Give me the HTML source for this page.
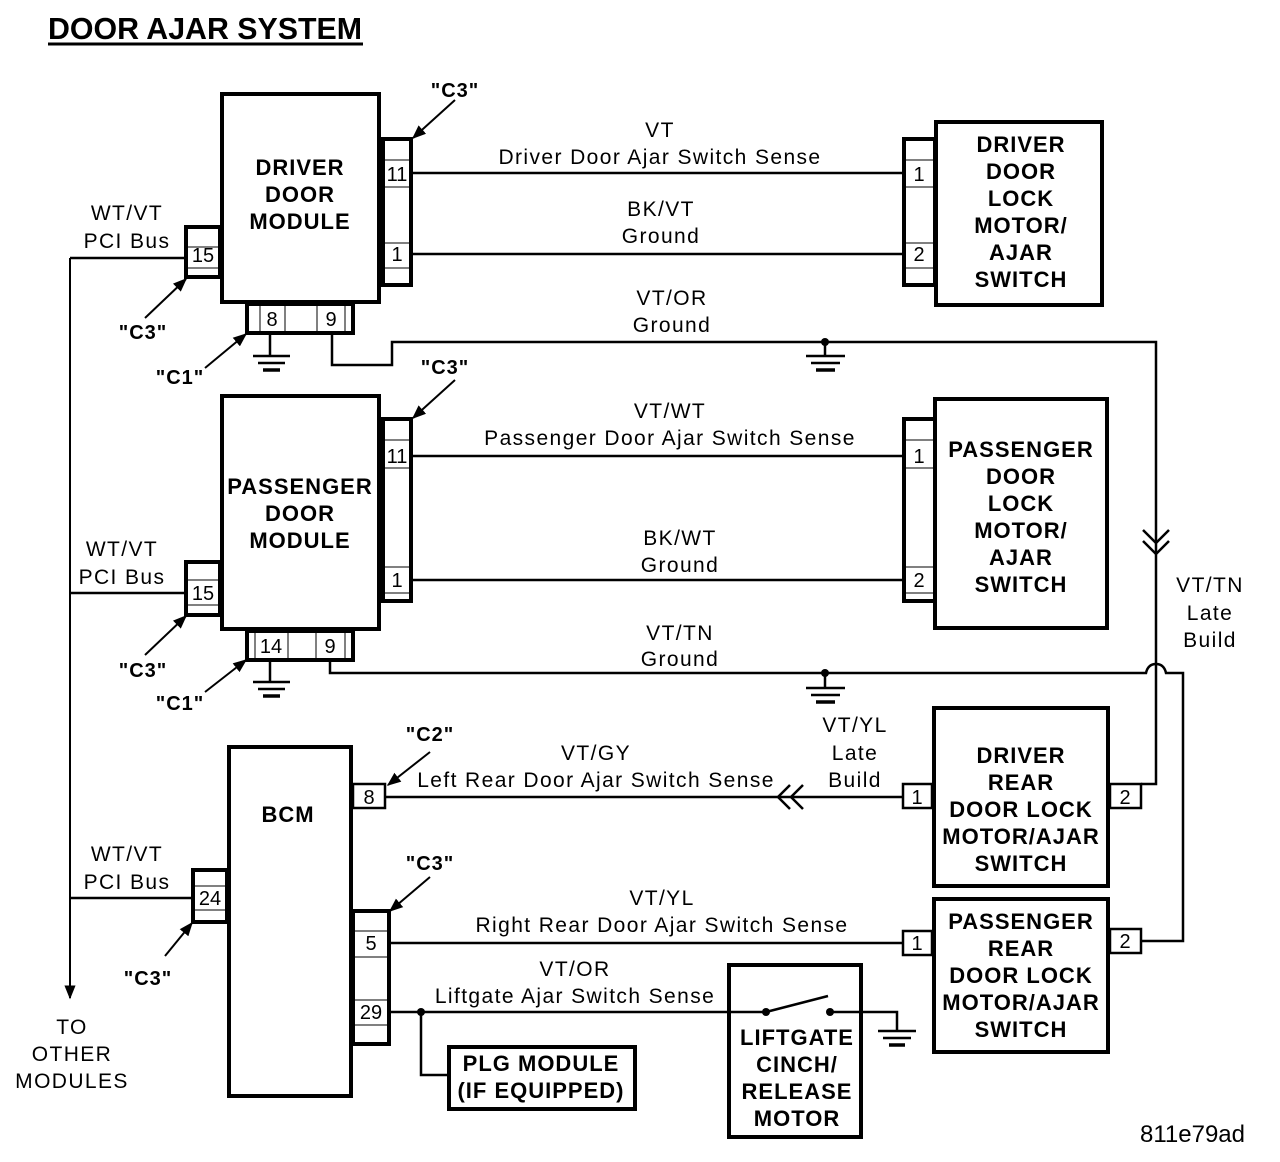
<!DOCTYPE html>
<html><head><meta charset="utf-8"><style>
html,body{margin:0;padding:0;background:#fff;}
svg{display:block;}
text{font-family:"Liberation Sans",Arial,sans-serif;fill:#000;}
.b{font-weight:bold;font-size:22px;text-anchor:middle;letter-spacing:1px;}
.w{font-size:21px;text-anchor:middle;letter-spacing:1.4px;}
.p{font-size:20px;text-anchor:middle;}
.c{font-weight:bold;font-size:20px;text-anchor:middle;letter-spacing:1px;}
</style></head><body>
<svg width="1280" height="1162" viewBox="0 0 1280 1162" xmlns="http://www.w3.org/2000/svg">
<defs>
<marker id="ar" viewBox="0 0 10 10" refX="9" refY="5" markerWidth="7" markerHeight="7" orient="auto"><path d="M0,1 L10,5 L0,9 z"/></marker>
</defs>
<g fill="none" stroke="#000">
<line x1="48" y1="44" x2="363" y2="44" stroke-width="3"/>
<rect x="222" y="94" width="157" height="208" stroke-width="4"/>
<rect x="383" y="139" width="28" height="146" stroke-width="4"/>
<line x1="383" y1="160" x2="411" y2="160" stroke-width="1"/><line x1="383" y1="187" x2="411" y2="187" stroke-width="1"/>
<line x1="383" y1="243" x2="411" y2="243" stroke-width="1"/><line x1="383" y1="268" x2="411" y2="268" stroke-width="1"/>
<rect x="186" y="227" width="34" height="50" stroke-width="4"/>
<line x1="186" y1="247" x2="220" y2="247" stroke-width="1"/><line x1="186" y1="268" x2="220" y2="268" stroke-width="1"/>
<rect x="247" y="304" width="106" height="29" stroke-width="4"/>
<line x1="260" y1="304" x2="260" y2="333" stroke-width="1"/><line x1="285" y1="304" x2="285" y2="333" stroke-width="1"/>
<line x1="317" y1="304" x2="317" y2="333" stroke-width="1"/><line x1="345" y1="304" x2="345" y2="333" stroke-width="1"/>
<line x1="411" y1="173" x2="903" y2="173" stroke-width="2.5"/>
<line x1="411" y1="254" x2="903" y2="254" stroke-width="2.5"/>
<rect x="936" y="122" width="166" height="183" stroke-width="4"/>
<rect x="904" y="139" width="31" height="146" stroke-width="4"/>
<line x1="904" y1="160" x2="935" y2="160" stroke-width="1"/><line x1="904" y1="187" x2="935" y2="187" stroke-width="1"/>
<line x1="904" y1="243" x2="935" y2="243" stroke-width="1"/><line x1="904" y1="268" x2="935" y2="268" stroke-width="1"/>
<line x1="270" y1="333" x2="270" y2="355" stroke-width="2.5"/>
<line x1="253" y1="356" x2="290" y2="356" stroke-width="2.5"/><line x1="258" y1="363" x2="285" y2="363" stroke-width="2.5"/><line x1="263" y1="370" x2="280" y2="370" stroke-width="3.5"/>
<polyline points="332,333 332,365 392,365 392,342 1156,342 1156,784 1141,784" stroke-width="2.5"/>
<line x1="825" y1="342" x2="825" y2="356" stroke-width="2.5"/>
<line x1="806" y1="356" x2="845" y2="356" stroke-width="2.5"/><line x1="811" y1="363" x2="840" y2="363" stroke-width="2.5"/><line x1="816" y1="370" x2="835" y2="370" stroke-width="3.5"/>
<polyline points="1143,530 1156,543 1169,530" stroke-width="2.5"/>
<polyline points="1143,541 1156,554 1169,541" stroke-width="2.5"/>
<rect x="222" y="396" width="157" height="233" stroke-width="4"/>
<rect x="383" y="419" width="28" height="182" stroke-width="4"/>
<line x1="383" y1="440" x2="411" y2="440" stroke-width="1"/><line x1="383" y1="468" x2="411" y2="468" stroke-width="1"/>
<line x1="383" y1="567" x2="411" y2="567" stroke-width="1"/><line x1="383" y1="593" x2="411" y2="593" stroke-width="1"/>
<rect x="186" y="562" width="34" height="53" stroke-width="4"/>
<line x1="186" y1="580" x2="220" y2="580" stroke-width="1"/><line x1="186" y1="605" x2="220" y2="605" stroke-width="1"/>
<rect x="247" y="631" width="106" height="29" stroke-width="4"/>
<line x1="255" y1="631" x2="255" y2="660" stroke-width="1"/><line x1="288" y1="631" x2="288" y2="660" stroke-width="1"/>
<line x1="316" y1="631" x2="316" y2="660" stroke-width="1"/><line x1="345" y1="631" x2="345" y2="660" stroke-width="1"/>
<line x1="411" y1="456" x2="903" y2="456" stroke-width="2.5"/>
<line x1="411" y1="580" x2="903" y2="580" stroke-width="2.5"/>
<rect x="935" y="399" width="172" height="229" stroke-width="4"/>
<rect x="904" y="419" width="31" height="182" stroke-width="4"/>
<line x1="904" y1="440" x2="935" y2="440" stroke-width="1"/><line x1="904" y1="468" x2="935" y2="468" stroke-width="1"/>
<line x1="904" y1="567" x2="935" y2="567" stroke-width="1"/><line x1="904" y1="593" x2="935" y2="593" stroke-width="1"/>
<line x1="270" y1="660" x2="270" y2="681" stroke-width="2.5"/>
<line x1="253" y1="682" x2="290" y2="682" stroke-width="2.5"/><line x1="258" y1="689" x2="285" y2="689" stroke-width="2.5"/><line x1="263" y1="696" x2="280" y2="696" stroke-width="3.5"/>
<path d="M330,660 V673 H1146 Q1148,664 1156,664 Q1164,664 1166,673 H1183 V941 H1141" stroke-width="2.5"/>
<line x1="825" y1="673" x2="825" y2="687" stroke-width="2.5"/>
<line x1="806" y1="688" x2="845" y2="688" stroke-width="2.5"/><line x1="811" y1="695" x2="840" y2="695" stroke-width="2.5"/><line x1="816" y1="702" x2="835" y2="702" stroke-width="3.5"/>
<rect x="229" y="747" width="122" height="349" stroke-width="4"/>
<rect x="353" y="784" width="32" height="24" stroke-width="2.5"/>
<line x1="385" y1="797" x2="903" y2="797" stroke-width="2.5"/>
<polyline points="790,785 778,797 790,809" stroke-width="2.5"/>
<polyline points="803,785 791,797 803,809" stroke-width="2.5"/>
<rect x="903" y="784" width="29" height="24" stroke-width="2.5"/>
<rect x="934" y="708" width="174" height="178" stroke-width="4"/>
<rect x="1110" y="784" width="31" height="24" stroke-width="2.5"/>
<rect x="353" y="911" width="36" height="133" stroke-width="4"/>
<line x1="353" y1="931" x2="389" y2="931" stroke-width="1"/><line x1="353" y1="957" x2="389" y2="957" stroke-width="1"/>
<line x1="353" y1="1000" x2="389" y2="1000" stroke-width="1"/><line x1="353" y1="1025" x2="389" y2="1025" stroke-width="1"/>
<rect x="193" y="870" width="34" height="52" stroke-width="4"/>
<line x1="193" y1="886" x2="227" y2="886" stroke-width="1"/><line x1="193" y1="910" x2="227" y2="910" stroke-width="1"/>
<line x1="389" y1="943" x2="903" y2="943" stroke-width="2.5"/>
<rect x="903" y="931" width="29" height="24" stroke-width="2.5"/>
<rect x="934" y="899" width="174" height="153" stroke-width="4"/>
<rect x="1110" y="929" width="31" height="24" stroke-width="2.5"/>
<line x1="389" y1="1012" x2="766" y2="1012" stroke-width="2.5"/>
<polyline points="421,1012 421,1075 448,1075" stroke-width="2.5"/>
<rect x="449" y="1047" width="186" height="62" stroke-width="4"/>
<rect x="729" y="965" width="132" height="172" stroke-width="4"/>
<line x1="766" y1="1012" x2="828" y2="996" stroke-width="2.5"/>
<polyline points="830,1012 897,1012 897,1030" stroke-width="2.5"/>
<line x1="878" y1="1031" x2="916" y2="1031" stroke-width="2.5"/><line x1="883" y1="1038" x2="911" y2="1038" stroke-width="2.5"/><line x1="889" y1="1045" x2="905" y2="1045" stroke-width="3.5"/>
<line x1="70" y1="258" x2="70" y2="998" stroke-width="2" marker-end="url(#ar)"/>
<line x1="70" y1="258" x2="186" y2="258" stroke-width="2.5"/>
<line x1="70" y1="593" x2="186" y2="593" stroke-width="2.5"/>
<line x1="70" y1="898" x2="193" y2="898" stroke-width="2.5"/>
<g stroke-width="2" marker-end="url(#ar)">
<line x1="455" y1="100" x2="413" y2="138"/>
<line x1="145" y1="318" x2="186" y2="279"/>
<line x1="205" y1="368" x2="246" y2="334"/>
<line x1="455" y1="380" x2="413" y2="418"/>
<line x1="145" y1="655" x2="186" y2="616"/>
<line x1="205" y1="692" x2="246" y2="660"/>
<line x1="430" y1="752" x2="388" y2="785"/>
<line x1="430" y1="877" x2="390" y2="911"/>
<line x1="165" y1="956" x2="192" y2="923"/>
</g>
</g>
<g fill="#000">
<circle cx="825" cy="342" r="4"/><circle cx="825" cy="673" r="4"/>
<circle cx="421" cy="1012" r="4"/><circle cx="766" cy="1012" r="4"/><circle cx="830" cy="1012" r="4"/>
</g>
<text x="48" y="39" font-weight="bold" font-size="31" textLength="314" lengthAdjust="spacingAndGlyphs">DOOR AJAR SYSTEM</text>
<text class="b" x="300" y="175">DRIVER</text><text class="b" x="300" y="202">DOOR</text><text class="b" x="300" y="229">MODULE</text>
<text class="b" x="1021" y="152">DRIVER</text><text class="b" x="1021" y="179">DOOR</text><text class="b" x="1021" y="206">LOCK</text><text class="b" x="1021" y="233">MOTOR/</text><text class="b" x="1021" y="260">AJAR</text><text class="b" x="1021" y="287">SWITCH</text>
<text class="b" x="300" y="494">PASSENGER</text><text class="b" x="300" y="521">DOOR</text><text class="b" x="300" y="548">MODULE</text>
<text class="b" x="1021" y="457">PASSENGER</text><text class="b" x="1021" y="484">DOOR</text><text class="b" x="1021" y="511">LOCK</text><text class="b" x="1021" y="538">MOTOR/</text><text class="b" x="1021" y="565">AJAR</text><text class="b" x="1021" y="592">SWITCH</text>
<text class="b" x="288" y="822">BCM</text>
<text class="b" x="1021" y="763">DRIVER</text><text class="b" x="1021" y="790">REAR</text><text class="b" x="1021" y="817">DOOR LOCK</text><text class="b" x="1021" y="844">MOTOR/AJAR</text><text class="b" x="1021" y="871">SWITCH</text>
<text class="b" x="1021" y="929">PASSENGER</text><text class="b" x="1021" y="956">REAR</text><text class="b" x="1021" y="983">DOOR LOCK</text><text class="b" x="1021" y="1010">MOTOR/AJAR</text><text class="b" x="1021" y="1037">SWITCH</text>
<text class="b" x="541" y="1071">PLG MODULE</text><text class="b" x="541" y="1098">(IF EQUIPPED)</text>
<text class="b" x="797" y="1045">LIFTGATE</text><text class="b" x="797" y="1072">CINCH/</text><text class="b" x="797" y="1099">RELEASE</text><text class="b" x="797" y="1126">MOTOR</text>
<text class="w" x="660" y="137">VT</text><text class="w" x="660" y="164">Driver Door Ajar Switch Sense</text>
<text class="w" x="661" y="216">BK/VT</text><text class="w" x="661" y="243">Ground</text>
<text class="w" x="672" y="305">VT/OR</text><text class="w" x="672" y="332">Ground</text>
<text class="w" x="670" y="418">VT/WT</text><text class="w" x="670" y="445">Passenger Door Ajar Switch Sense</text>
<text class="w" x="680" y="545">BK/WT</text><text class="w" x="680" y="572">Ground</text>
<text class="w" x="680" y="640">VT/TN</text><text class="w" x="680" y="666">Ground</text>
<text class="w" x="1210" y="592">VT/TN</text><text class="w" x="1210" y="620">Late</text><text class="w" x="1210" y="647">Build</text>
<text class="w" x="596" y="760">VT/GY</text><text class="w" x="596" y="787">Left Rear Door Ajar Switch Sense</text>
<text class="w" x="855" y="732">VT/YL</text><text class="w" x="855" y="760">Late</text><text class="w" x="855" y="787">Build</text>
<text class="w" x="662" y="905">VT/YL</text><text class="w" x="662" y="932">Right Rear Door Ajar Switch Sense</text>
<text class="w" x="575" y="976">VT/OR</text><text class="w" x="575" y="1003">Liftgate Ajar Switch Sense</text>
<text class="w" x="127" y="220">WT/VT</text><text class="w" x="127" y="248">PCI Bus</text>
<text class="w" x="122" y="556">WT/VT</text><text class="w" x="122" y="584">PCI Bus</text>
<text class="w" x="127" y="861">WT/VT</text><text class="w" x="127" y="889">PCI Bus</text>
<text class="w" x="72" y="1034">TO</text><text class="w" x="72" y="1061">OTHER</text><text class="w" x="72" y="1088">MODULES</text>
<text x="1245" y="1142" font-size="24" text-anchor="end">811e79ad</text>
<text class="p" x="397" y="181">11</text><text class="p" x="397" y="261">1</text>
<text class="p" x="203" y="262">15</text>
<text class="p" x="272" y="326">8</text><text class="p" x="331" y="326">9</text>
<text class="p" x="919" y="181">1</text><text class="p" x="919" y="261">2</text>
<text class="p" x="397" y="463">11</text><text class="p" x="397" y="587">1</text>
<text class="p" x="203" y="600">15</text>
<text class="p" x="271" y="653">14</text><text class="p" x="330" y="653">9</text>
<text class="p" x="919" y="463">1</text><text class="p" x="919" y="587">2</text>
<text class="p" x="369" y="804">8</text>
<text class="p" x="917" y="804">1</text><text class="p" x="1125" y="804">2</text>
<text class="p" x="371" y="950">5</text><text class="p" x="371" y="1019">29</text>
<text class="p" x="210" y="905">24</text>
<text class="p" x="917" y="950">1</text><text class="p" x="1125" y="948">2</text>
<text class="c" x="455" y="97">"C3"</text>
<text class="c" x="143" y="339">"C3"</text>
<text class="c" x="180" y="384">"C1"</text>
<text class="c" x="445" y="374">"C3"</text>
<text class="c" x="143" y="677">"C3"</text>
<text class="c" x="180" y="710">"C1"</text>
<text class="c" x="430" y="741">"C2"</text>
<text class="c" x="430" y="870">"C3"</text>
<text class="c" x="148" y="985">"C3"</text>
</svg>
</body></html>
